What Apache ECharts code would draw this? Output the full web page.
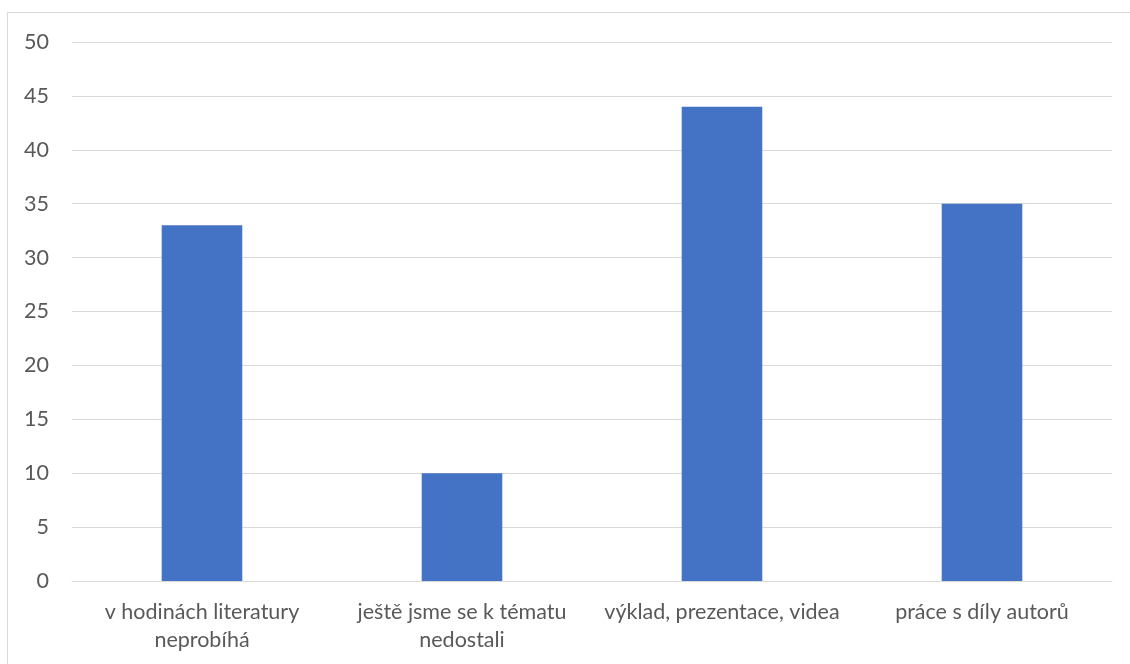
<!DOCTYPE html>
<html><head><meta charset="utf-8">
<script src="https://cdn.jsdelivr.net/npm/echarts@6/dist/echarts.min.js"></script>
<style>html,body{margin:0;padding:0;background:#fff}#c{width:1130px;height:664px}</style>
</head><body><div id="c"></div>
<script>
const categories = ['v hodinách literatury\nneprobíhá', 'ještě jsme se k tématu\nnedostali', 'výklad, prezentace, videa', 'práce s díly autorů'];
const values = [33, 10, 44, 35];
const yTicks = {min: 0, max: 50, interval: 5};

const chart = echarts.init(document.getElementById('c'));
chart.setOption({
  animation: false,
  graphic: [{type: 'rect', shape: {x: 7.5, y: 12.5, width: 1140, height: 700}, style: {fill: 'none', stroke: '#d9d9d9', lineWidth: 1}, silent: true}],
  grid: {left: 72, right: 18, top: 42, bottom: 83},
  xAxis: {
    type: 'category', data: categories,
    axisLine: {lineStyle: {color: '#d9d9d9', width: 1}},
    axisTick: {show: false},
    axisLabel: {color: '#595959', fontSize: 21.5, fontFamily: 'Lato', lineHeight: 28, margin: 17, interval: 0}
  },
  yAxis: {
    type: 'value', min: yTicks.min, max: yTicks.max, interval: yTicks.interval,
    axisLine: {show: false}, axisTick: {show: false},
    splitLine: {lineStyle: {color: '#d9d9d9', width: 1}},
    axisLabel: {color: '#595959', fontSize: 21.5, fontFamily: 'Lato', margin: 23}
  },
  series: [{type: 'bar', data: values, barWidth: '31%', itemStyle: {color: '#4472C4'}}]
});
</script></body></html>
